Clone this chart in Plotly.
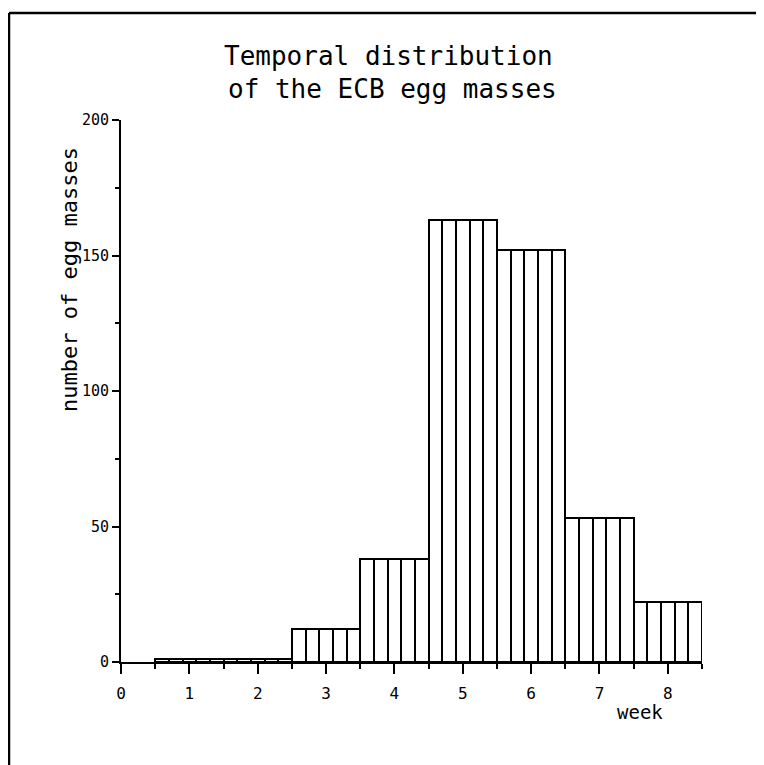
import plotly.graph_objects as go

weeks = [1, 2, 3, 4, 5, 6, 7, 8]
egg_masses = [1, 1, 12, 38, 163, 152, 53, 22]
x_ticks = [0, 1, 2, 3, 4, 5, 6, 7, 8]
y_ticks = [0, 50, 100, 150, 200]
title_lines = ["Temporal distribution", "of the ECB egg masses"]
x_title = "week"
y_title = "number of egg masses"

# each weekly bar is drawn as 5 adjoining strips -> vertical hatching
strips = 5
sub_w = 1.0 / strips
xs, ys = [], []
for w, v in zip(weeks, egg_masses):
    for k in range(strips):
        xs.append(w - 0.5 + sub_w * (k + 0.5))
        ys.append(v)

FONT = "DejaVu Sans Mono"
OFF = 8  # page body margin
SW, SH = 764, 765  # screen size
PL, PR, PT, PB = 121, 702, 120, 662  # plot area in screen pixels
W, H = SW - OFF, SH - OFF
L, T = PL - OFF, PT - OFF
R, B = SW - PR, SH - PB
pw, ph = PR - PL, PB - PT

def px(x):
    return (x - PL) / pw

def py(y):
    return (PB - y) / ph

fig = go.Figure()
fig.add_trace(go.Bar(
    x=xs, y=ys, width=sub_w,
    marker=dict(color="white", line=dict(color="black", width=2)),
    showlegend=False, hoverinfo="skip",
))

fig.update_layout(
    width=W, height=H,
    margin=dict(l=L, r=R, t=T, b=B),
    paper_bgcolor="white", plot_bgcolor="white",
    bargap=0,
    font=dict(family=FONT, color="black", size=14),
    xaxis=dict(
        range=[0, 8.5], tickvals=x_ticks, showgrid=False, zeroline=False,
        showline=True, linecolor="black", linewidth=2,
        ticks="outside", ticklen=10, tickwidth=2, tickcolor="black",
        minor=dict(dtick=0.5, tick0=0, ticks="outside", ticklen=5,
                   tickwidth=2, tickcolor="black", showgrid=False),
        tickfont=dict(family=FONT, size=16, color="black"),
        ticklabelstandoff=6,
        fixedrange=True,
    ),
    yaxis=dict(
        range=[0, 200], tickvals=y_ticks, showgrid=False, zeroline=False,
        showline=True, linecolor="black", linewidth=2,
        ticks="outside", ticklen=7, tickwidth=2, tickcolor="black",
        minor=dict(dtick=25, tick0=0, ticks="outside", ticklen=4,
                   tickwidth=2, tickcolor="black", showgrid=False),
        tickfont=dict(family=FONT, size=15, color="black"),
        ticklabelstandoff=0,
        fixedrange=True,
    ),
)

annotations = [
    dict(text=title_lines[0], x=px(388), y=py(56), xref="paper", yref="paper",
         showarrow=False, font=dict(family=FONT, size=26, color="black"),
         xanchor="center", yanchor="middle"),
    dict(text=title_lines[1], x=px(392), y=py(89), xref="paper", yref="paper",
         showarrow=False, font=dict(family=FONT, size=26, color="black"),
         xanchor="center", yanchor="middle"),
    dict(text=x_title, x=px(640), y=py(712), xref="paper", yref="paper",
         showarrow=False, font=dict(family=FONT, size=19, color="black"),
         xanchor="center", yanchor="middle"),
    dict(text=y_title, x=px(69), y=py(280), xref="paper", yref="paper",
         showarrow=False, textangle=-90,
         font=dict(family=FONT, size=22, color="black"),
         xanchor="center", yanchor="middle"),
]
fig.update_layout(annotations=annotations)

# page frame (top and left edges of the scanned sheet)
fig.add_shape(type="line", xref="paper", yref="paper",
              x0=px(9), x1=px(764), y0=py(13), y1=py(13),
              line=dict(color="black", width=2.5))
fig.add_shape(type="line", xref="paper", yref="paper",
              x0=px(9), x1=px(9), y0=py(13), y1=py(765),
              line=dict(color="black", width=2.5))

fig.write_html("out.html", config={"displayModeBar": False})
